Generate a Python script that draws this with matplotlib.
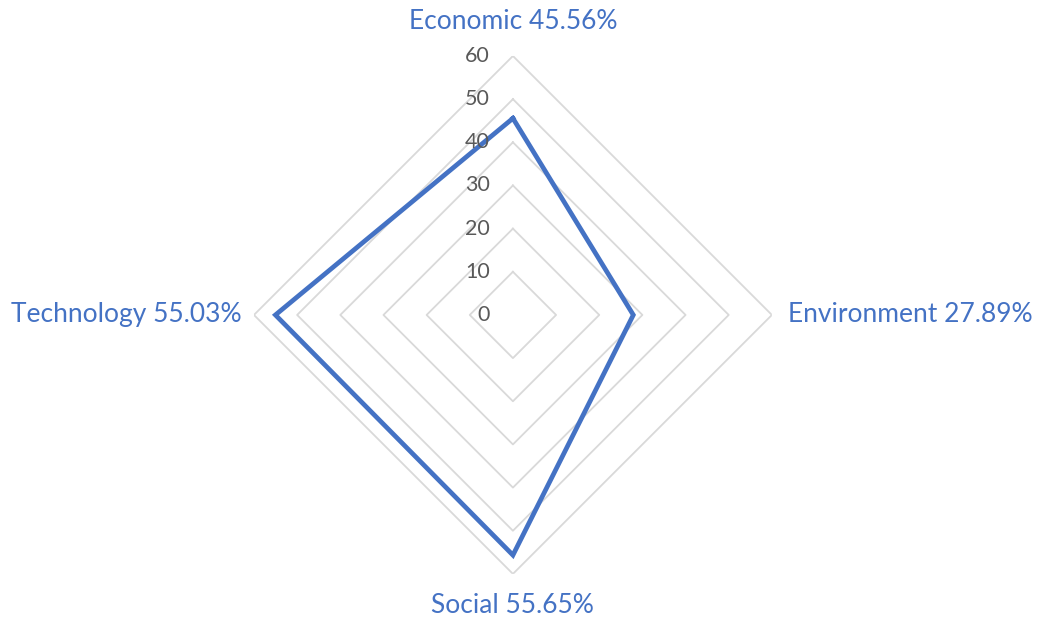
import numpy as np
import matplotlib.pyplot as plt

# values
categories = ["Economic", "Environment", "Social", "Technology"]
values = [45.56, 27.89, 55.65, 55.03]
ring_levels = [10, 20, 30, 40, 50, 60]
tick_labels = ["0", "10", "20", "30", "40", "50", "60"]

line_color = "#4472C4"
grid_color = "#D9D9D9"
tick_color = "#595959"

plt.rcParams["font.family"] = ["Lato", "DejaVu Sans"]

fig = plt.figure(figsize=(10.4, 6.19), dpi=100)
ax = fig.add_axes([0.2442, 0.0727, 0.498, 0.837], projection="polar")
ax.set_theta_zero_location("N")
ax.set_theta_direction(-1)
ax.set_ylim(0, 60)
ax.grid(False)
ax.spines["polar"].set_visible(False)
ax.set_xticks([])
ax.set_yticks([])

angles = np.linspace(0, 2 * np.pi, len(categories), endpoint=False)
closed = np.append(angles, angles[0])

# diamond rings
for r in ring_levels:
    ax.plot(closed, [r] * len(closed), color=grid_color, lw=1.3, zorder=1)

# series
vals = values + values[:1]
ax.plot(closed, vals, color=line_color, lw=3.4, solid_joinstyle="miter", zorder=3)

# r tick labels along the vertical axis
for i, lab in enumerate(tick_labels):
    ax.annotate(lab, xy=(0, i * 10), xytext=(-23, 0), textcoords="offset pixels",
                ha="right", va="center", fontsize=15.5, color=tick_color,
                annotation_clip=False, zorder=4)

# category labels
label_pos = [(68, "center", "center"), (63.7, "left", "center"),
             (67.4, "center", "center"), (62.8, "right", "center")]
for ang, cat, v, (r, ha, va) in zip(angles, categories, values, label_pos):
    ax.text(ang, r, f"{cat} {v:.2f}%", ha=ha, va=va, fontsize=19,
            color=line_color, clip_on=False)

fig.savefig("out.png", dpi=100)
